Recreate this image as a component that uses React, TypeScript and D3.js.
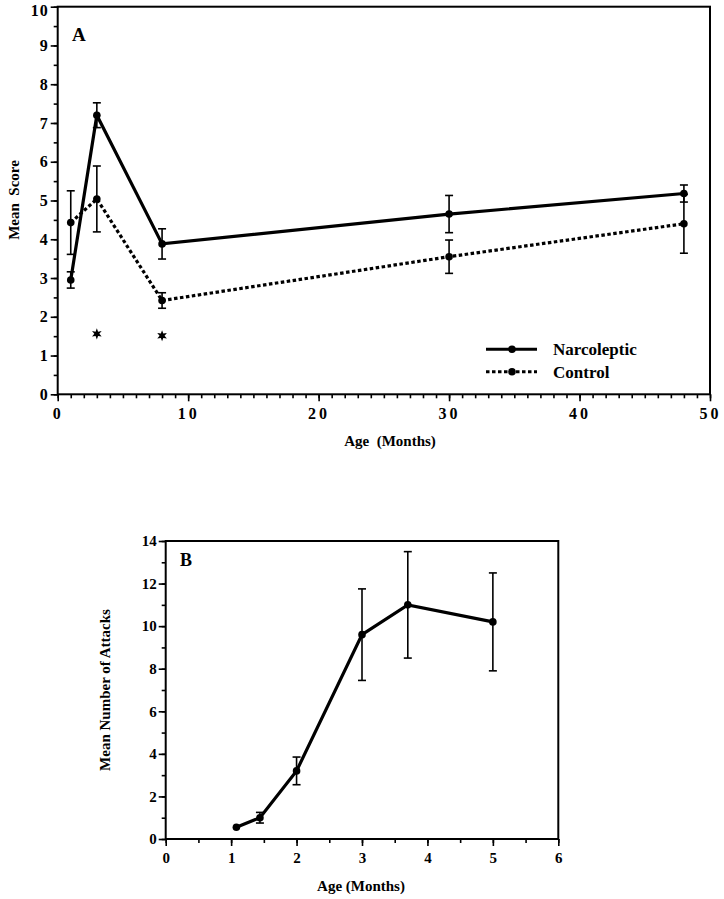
import React, { useEffect, useRef } from "react";
import * as d3 from "d3";

// Panel A data
const ageA = [1, 3, 8, 30, 48];
const narcMean = [2.95, 7.2, 3.88, 4.65, 5.18];
const narcErr = [0.21, 0.32, 0.39, 0.48, 0.22];
const ctrlMean = [4.43, 5.04, 2.42, 3.55, 4.4];
const ctrlErr = [0.82, 0.85, 0.2, 0.43, 0.76];
const starAge = [3, 8];
const starVal = [1.56, 1.51];
const seriesNames = ["Narcoleptic", "Control"];
const xTicksA = [0, 10, 20, 30, 40, 50];
const yTicksA = [0, 1, 2, 3, 4, 5, 6, 7, 8, 9, 10];

// Panel B data
const ageB = [1.08, 1.44, 2.0, 3.0, 3.7, 5.0];
const attacks = [0.55, 1.0, 3.2, 9.6, 11.0, 10.2];
const attacksErr = [0, 0.25, 0.65, 2.15, 2.5, 2.3];
const xTicksB = [0, 1, 2, 3, 4, 5, 6];
const yTicksB = [0, 2, 4, 6, 8, 10, 12, 14];

const FONT = '"Liberation Serif", "Times New Roman", serif';

// six-pointed star symbol
const symbolStar6 = {
  draw(context: any, size: number) {
    const R = Math.sqrt(size / 1.3);
    const r = R * 0.45;
    for (let k = 0; k < 12; k++) {
      const a = (k * Math.PI) / 6 - Math.PI / 2;
      const rad = k % 2 === 0 ? R : r;
      const px = Math.cos(a) * rad;
      const py = Math.sin(a) * rad;
      if (k === 0) context.moveTo(px, py);
      else context.lineTo(px, py);
    }
    context.closePath();
  },
};

export default function App() {
  const ref = useRef<SVGSVGElement | null>(null);

  useEffect(() => {
    const svg = d3.select(ref.current);
    svg.selectAll("*").remove();

    const styleAxis = (g: any, spacing: number, size: number) => {
      g.attr("font-family", FONT);
      g.select(".domain").remove();
      g.selectAll("line").attr("stroke", "#000").attr("stroke-width", 1.6);
      g.selectAll("text")
        .attr("fill", "#000")
        .attr("font-family", FONT)
        .attr("font-weight", "bold")
        .attr("font-size", size)
        .style("letter-spacing", spacing + "px");
    };

    const drawPanel = (opts: any) => {
      const { x, y, xMajor, xMinor, yMajor, yMinor, xSpacing, ySpacing, size } = opts;
      const [x0, x1] = x.range();
      const [y0, y1] = y.range();
      const g = svg.append("g");
      g.append("g")
        .attr("transform", `translate(0,${y0})`)
        .call(d3.axisBottom(x).tickValues(xMinor).tickSize(4).tickFormat(() => ""))
        .call((a: any) => styleAxis(a, 0, size));
      g.append("g")
        .attr("transform", `translate(${x0},0)`)
        .call(d3.axisLeft(y).tickValues(yMinor).tickSize(4).tickFormat(() => ""))
        .call((a: any) => styleAxis(a, 0, size));
      g.append("g")
        .attr("transform", `translate(0,${y0})`)
        .call(d3.axisBottom(x).tickValues(xMajor).tickSize(7).tickPadding(6).tickFormat(d3.format("d")))
        .call((a: any) => styleAxis(a, xSpacing, size));
      const ya = g.append("g")
        .attr("transform", `translate(${x0},0)`)
        .call(d3.axisLeft(y).tickValues(yMajor).tickSize(7).tickPadding(2).tickFormat(d3.format("d")))
        .call((a: any) => styleAxis(a, ySpacing, size));
      // keep the top label inside the picture
      ya.selectAll("text").filter((d: any) => y(d) < 12).attr("dy", "0.55em");
      g.append("rect")
        .attr("x", x0)
        .attr("y", y1)
        .attr("width", x1 - x0)
        .attr("height", y0 - y1)
        .attr("fill", "none")
        .attr("stroke", "#000")
        .attr("stroke-width", 2);
      return g;
    };

    const errBars = (g: any, x: any, y: any, xs: number[], ms: number[], es: number[]) => {
      xs.forEach((xv, i) => {
        if (!es[i]) return;
        const cx = x(xv);
        const lo = y(ms[i] - es[i]);
        const hi = y(ms[i] + es[i]);
        g.append("line").attr("x1", cx).attr("x2", cx).attr("y1", lo).attr("y2", hi)
          .attr("stroke", "#000").attr("stroke-width", 1.6);
        [lo, hi].forEach((yy) =>
          g.append("line").attr("x1", cx - 4).attr("x2", cx + 4).attr("y1", yy).attr("y2", yy)
            .attr("stroke", "#000").attr("stroke-width", 1.6)
        );
      });
    };

    const series = (g: any, x: any, y: any, xs: number[], ms: number[], dash: string | null) => {
      const line = d3.line<number>().x((_, i) => x(xs[i])).y((d) => y(d));
      const p = g.append("path").attr("d", line(ms)).attr("fill", "none")
        .attr("stroke", "#000").attr("stroke-width", 3.2).attr("stroke-linejoin", "miter");
      if (dash) p.attr("stroke-dasharray", dash);
      ms.forEach((m, i) => g.append("circle").attr("cx", x(xs[i])).attr("cy", y(m)).attr("r", 3.8).attr("fill", "#000"));
    };

    const label = (txt: string, x: number, y: number, size: number, rotate = false, anchor = "middle") => {
      const t = svg.append("text")
        .attr("x", x).attr("y", y)
        .attr("text-anchor", anchor)
        .attr("font-family", FONT).attr("font-weight", "bold").attr("font-size", size)
        .style("white-space", "pre")
        .attr("fill", "#000")
        .text(txt);
      if (rotate) t.attr("transform", `rotate(-90,${x},${y})`);
      return t;
    };

    // ---------- Panel A ----------
    const xA = d3.scaleLinear().domain([0, 50]).range([57.7, 710]);
    const yA = d3.scaleLinear().domain([0, 10]).range([394.3, 6.7]);
    const gA = drawPanel({
      x: xA, y: yA,
      xMajor: xTicksA, xMinor: d3.range(0, 51, 1),
      yMajor: yTicksA, yMinor: d3.range(0, 10.01, 0.5),
      xSpacing: 3, ySpacing: 1, size: 16,
    });
    errBars(gA, xA, yA, ageA, ctrlMean, ctrlErr);
    errBars(gA, xA, yA, ageA, narcMean, narcErr);
    series(gA, xA, yA, ageA, ctrlMean, "3.5,2.5");
    series(gA, xA, yA, ageA, narcMean, null);
    const star = d3.symbol().type(symbolStar6 as any).size(40);
    starAge.forEach((a, i) =>
      gA.append("path").attr("d", star()).attr("transform", `translate(${xA(a)},${yA(starVal[i])})`).attr("fill", "#000")
    );
    const legY = [349.3, 371.7];
    seriesNames.forEach((n, i) => {
      const l = gA.append("line").attr("x1", 486).attr("x2", 537).attr("y1", legY[i]).attr("y2", legY[i])
        .attr("stroke", "#000").attr("stroke-width", 3);
      if (i === 1) l.attr("stroke-dasharray", "3.5,2.5");
      gA.append("circle").attr("cx", 512).attr("cy", legY[i]).attr("r", 3.8).attr("fill", "#000");
      label(n, 553, legY[i] + 6, 17, false, "start");
    });
    label("A", 72, 41, 19, false, "start");
    label("Age  (Months)", 390, 446, 15);
    label("Mean  Score", 19, 200, 15, true);

    // ---------- Panel B ----------
    const xB = d3.scaleLinear().domain([0, 6]).range([165.7, 558.3]);
    const yB = d3.scaleLinear().domain([0, 14]).range([839, 541]);
    const gB = drawPanel({
      x: xB, y: yB,
      xMajor: xTicksB, xMinor: d3.range(0, 6.01, 0.5),
      yMajor: yTicksB, yMinor: d3.range(0, 14.01, 1),
      xSpacing: 0, ySpacing: 0, size: 15,
    });
    errBars(gB, xB, yB, ageB, attacks, attacksErr);
    series(gB, xB, yB, ageB, attacks, null);
    label("B", 180, 566, 18, false, "start");
    label("Age (Months)", 361, 891, 15);
    label("Mean Number of Attacks", 110, 690, 15, true);
  }, []);

  return (
    <svg
      ref={ref}
      width={724}
      height={899}
      style={{ position: "absolute", left: 0, top: 0, background: "#fff" }}
    />
  );
}
